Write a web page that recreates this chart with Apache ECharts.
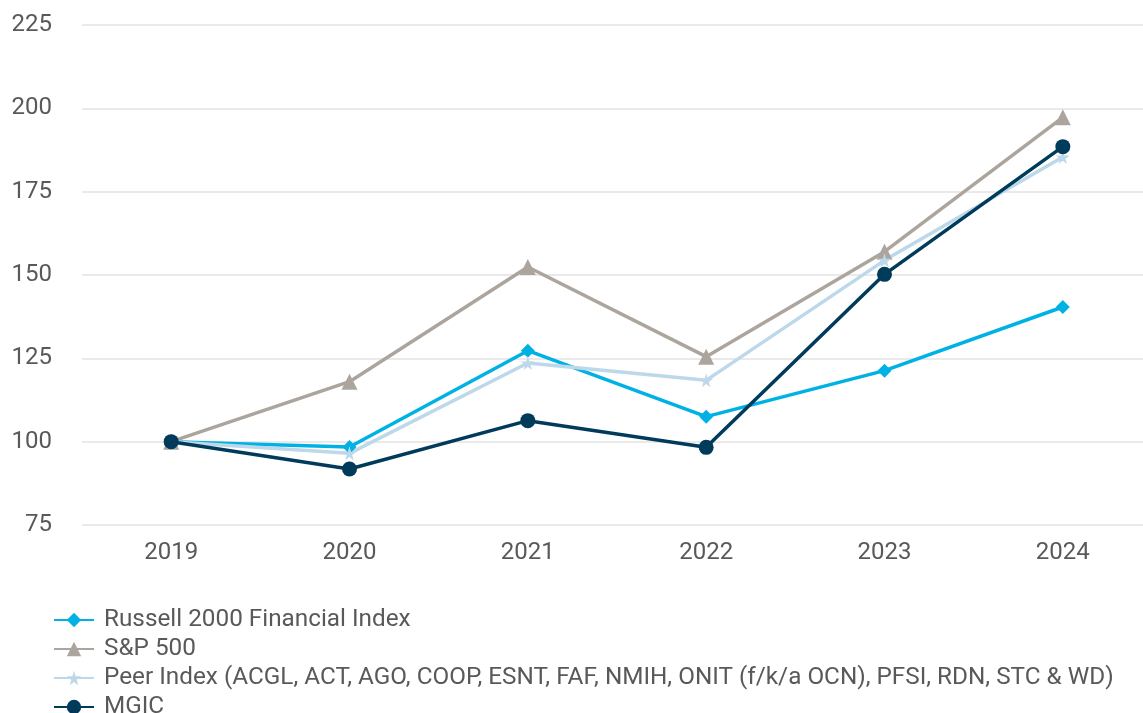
<!DOCTYPE html>
<html>
<head>
<meta charset="utf-8">
<script src="https://cdn.jsdelivr.net/npm/echarts@6/dist/echarts.min.js"></script>
<style>html,body{margin:0;padding:0;background:#fff;}#c{width:1143px;height:713px;}</style>
</head>
<body>
<div id="c"></div>
<script>
var years = ['2019', '2020', '2021', '2022', '2023', '2024'];
var russell = [100, 98.4, 127.3, 107.5, 121.3, 140.4];
var sp500 = [100, 118, 152.4, 125.5, 157, 197.3];
var peer = [100, 96.5, 123.6, 118.4, 154.4, 185.4];
var mgic = [100, 91.8, 106.3, 98.3, 150.2, 188.5];
var seriesNames = ['Russell 2000 Financial Index', 'S&P 500', 'Peer Index (ACGL, ACT, AGO, COOP, ESNT, FAF, NMIH, ONIT (f/k/a OCN), PFSI, RDN, STC & WD)', 'MGIC'];

var star = 'path://M50,0 L61,35 L98,35 L68,57 L79,91 L50,70 L21,91 L32,57 L2,35 L39,35 Z';
var chart = echarts.init(document.getElementById('c'));
function mk(name, data, color, symbol, size) {
  return {
    name: name, type: 'line', data: data, symbol: symbol, symbolSize: size,
    showAllSymbol: true,
    lineStyle: { color: color, width: 3.5 },
    itemStyle: { color: color, borderWidth: 0 },
    emphasis: { disabled: true },
    animation: false
  };
}
chart.setOption({
  backgroundColor: '#fff',
  textStyle: { fontFamily: 'Roboto' },
  grid: { left: 82, width: 1070, top: 25, bottom: 188, containLabel: false, outerBoundsMode: 'none' },
  xAxis: {
    type: 'category', data: years, boundaryGap: true,
    axisLine: { show: false }, axisTick: { show: false },
    axisLabel: { color: '#595959', fontSize: 24, margin: 16, fontFamily: 'Roboto' }
  },
  yAxis: {
    type: 'value', min: 75, max: 225, interval: 25,
    axisLine: { show: false }, axisTick: { show: false },
    splitLine: { lineStyle: { color: '#e3e3e3', width: 1.5 } },
    axisLabel: { color: '#595959', fontSize: 24, margin: 30, fontFamily: 'Roboto' }
  },
  legend: {
    orient: 'vertical', left: 53, top: 608, height: 140, padding: 0, itemWidth: 40, itemHeight: 18, itemGap: 5,
    data: seriesNames,
    textStyle: { color: '#595959', fontSize: 24.3, fontFamily: 'Roboto', padding: [0, 0, 0, 5] }
  },
  series: [
    mk(seriesNames[0], russell, '#00b2e3', 'diamond', 14),
    mk(seriesNames[1], sp500, '#aca59d', 'triangle', 16),
    mk(seriesNames[2], peer, '#bcd8ea', star, 14),
    mk(seriesNames[3], mgic, '#003b5c', 'circle', 15)
  ]
});
</script>
</body>
</html>
